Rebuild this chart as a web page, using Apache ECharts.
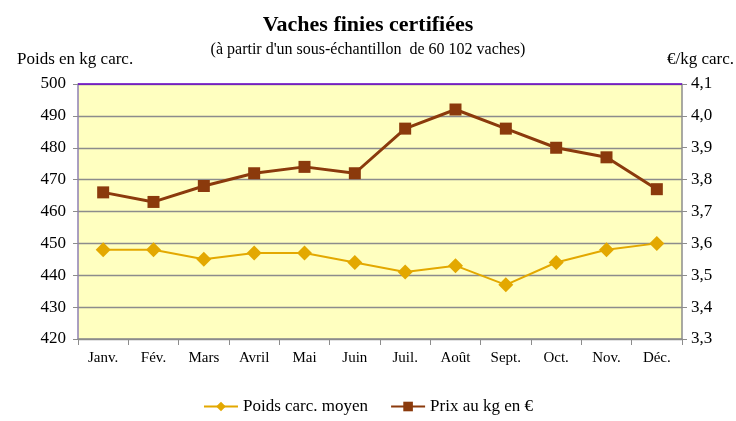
<!DOCTYPE html>
<html>
<head>
<meta charset="utf-8">
<script src="https://cdn.jsdelivr.net/npm/echarts@6/dist/echarts.min.js"></script>
<style>
  html, body { margin: 0; padding: 0; background: #fff; }
  #chart { width: 736px; height: 421px; }
</style>
</head>
<body>
<div id="chart"></div>
<script>
var months = ['Janv.', 'Fév.', 'Mars', 'Avril', 'Mai', 'Juin', 'Juil.', 'Août', 'Sept.', 'Oct.', 'Nov.', 'Déc.'];
var poids = [448, 448, 445, 447, 447, 444, 441, 443, 437, 444, 448, 450];
var prix = [3.76, 3.73, 3.78, 3.82, 3.84, 3.82, 3.96, 4.02, 3.96, 3.90, 3.87, 3.77];

var chart = echarts.init(document.getElementById('chart'));
var serif = 'Liberation Serif';

var option = {
  backgroundColor: '#fff',
  textStyle: { fontFamily: serif },
  title: [
    { text: 'Vaches finies certifiées', left: 'center', top: 9,
      textStyle: { fontFamily: serif, fontSize: 22, fontWeight: 'bold', color: '#000' } },
    { text: "(à partir d'un sous-échantillon  de 60 102 vaches)", left: 'center', top: 37,
      textStyle: { fontFamily: serif, fontSize: 16, fontWeight: 'normal', color: '#000' } }
  ],
  graphic: [
    { type: 'text', left: 17, top: 51, style: { text: 'Poids en kg carc.', font: '17px "Liberation Serif"', fill: '#000' } },
    { type: 'text', right: 2, top: 51, style: { text: '€/kg carc.', font: '17px "Liberation Serif"', fill: '#000' } }
  ],
  legend: {
    bottom: 1, left: 'center', itemGap: 22, itemWidth: 34, itemHeight: 12,
    textStyle: { fontFamily: serif, fontSize: 17, color: '#000' },
    data: ['Poids carc. moyen', 'Prix au kg en €']
  },
  grid: {
    left: 78, right: 54, top: 84, bottom: 82,
    show: true, backgroundColor: '#FFFFC0', borderWidth: 0
  },
  xAxis: {
    type: 'category', data: months, boundaryGap: true,
    axisLine: { lineStyle: { color: '#8c8c8c', width: 1.5 } },
    axisTick: { show: true, length: 6, lineStyle: { color: '#8c8c8c' } },
    axisLabel: { fontFamily: serif, fontSize: 15, color: '#000', margin: 12 }
  },
  yAxis: [
    {
      type: 'value', min: 420, max: 500, interval: 10,
      axisLine: { show: true, lineStyle: { color: '#8E7FB3', width: 1.5 } },
      axisTick: { show: true, length: 5, lineStyle: { color: '#8c8c8c' } },
      axisLabel: { fontFamily: serif, fontSize: 17, color: '#000', margin: 12 },
      splitLine: { lineStyle: { color: '#8c8c8c', width: 1.3 } }
    },
    {
      type: 'value', min: 3.3, max: 4.1, interval: 0.1,
      axisLine: { show: true, lineStyle: { color: '#8c8c8c', width: 1.5 } },
      axisTick: { show: true, length: 5, lineStyle: { color: '#8c8c8c' } },
      axisLabel: { fontFamily: serif, fontSize: 17, color: '#000', margin: 9,
        formatter: function (v) { return v.toFixed(1).replace('.', ','); } },
      splitLine: { show: false }
    }
  ],
  series: [
    {
      name: 'Poids carc. moyen', type: 'line', yAxisIndex: 0, data: poids,
      symbol: 'diamond', symbolSize: 15,
      lineStyle: { color: '#E3A800', width: 2 },
      itemStyle: { color: '#E3A800' }
    },
    {
      name: 'Prix au kg en €', type: 'line', yAxisIndex: 1, data: prix,
      symbol: 'rect', symbolSize: 12,
      lineStyle: { color: '#8B3A0C', width: 3 },
      itemStyle: { color: '#8B3A0C' }
    },
    {
      type: 'line', yAxisIndex: 0, data: [], silent: true,
      markLine: {
        silent: true, symbol: 'none', label: { show: false },
        lineStyle: { color: '#6A00C8', type: 'solid', width: 1.5 },
        data: [{ yAxis: 500 }]
      }
    }
  ]
};

chart.setOption(option);
</script>
</body>
</html>
